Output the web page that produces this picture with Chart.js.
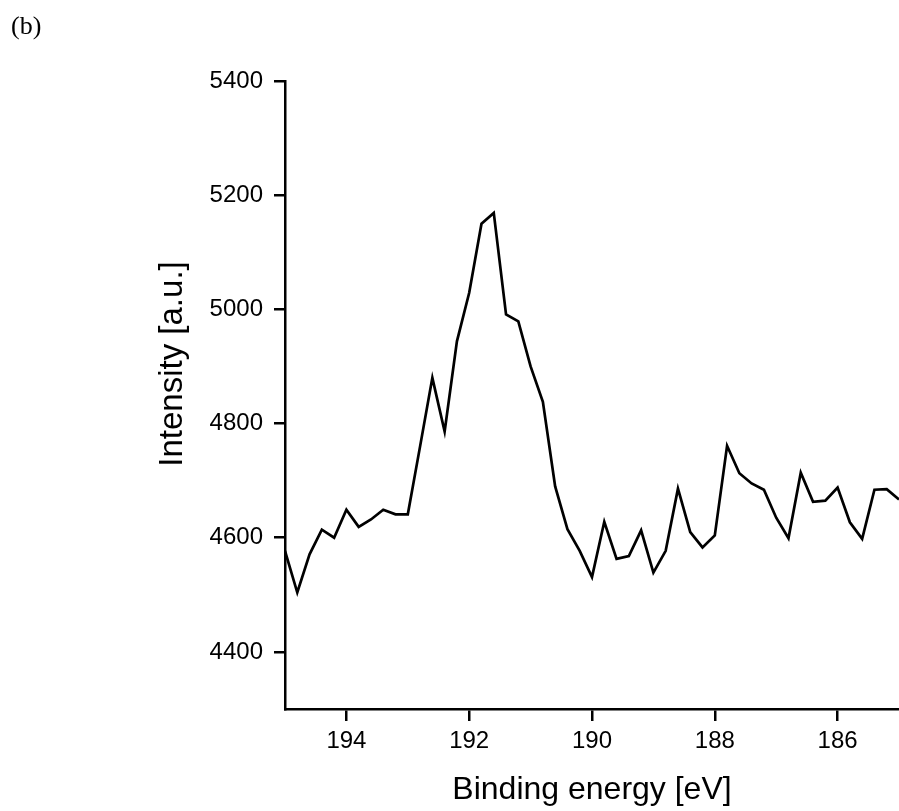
<!DOCTYPE html>
<html>
<head>
<meta charset="utf-8">
<script src="https://cdn.jsdelivr.net/npm/chart.js@4.4.1/dist/chart.umd.min.js"></script>
<style>
  html, body { margin: 0; padding: 0; background: #fff; }
  #wrap { position: relative; width: 899px; height: 811px; }
  #panel { position: absolute; left: 11px; top: 13px; line-height: 1; font-family: "Liberation Serif", "Times New Roman", serif; font-size: 26px; color: #000; }
</style>
</head>
<body>
<div id="wrap">
  <canvas id="c" width="899" height="811"></canvas>
  <div id="panel">(b)</div>
</div>
<script>
const energies = [195.0,194.8,194.6,194.4,194.2,194.0,193.8,193.6,193.4,193.2,
                  193.0,192.8,192.6,192.4,192.2,192.0,191.8,191.6,191.4,191.2,
                  191.0,190.8,190.6,190.4,190.2,190.0,189.8,189.6,189.4,189.2,
                  189.0,188.8,188.6,188.4,188.2,188.0,187.8,187.6,187.4,187.2,
                  187.0,186.8,186.6,186.4,186.2,186.0,185.8,185.6,185.4,185.2,185.0];
const intensity = [4577,4504,4571,4614,4600,4649,4619,4632,4649,4641,
                   4641,4760,4880,4786,4944,5029,5150,5169,4991,4979,
                   4900,4838,4690,4615,4577,4531,4628,4563,4568,4613,
                   4539,4577,4686,4610,4583,4604,4761,4713,4695,4684,
                   4635,4599,4714,4663,4665,4688,4627,4598,4684,4685,4667];
const xTicks = [194,192,190,188,186];
const yTicks = [4400,4600,4800,5000,5200,5400];
const yTitle = 'Intensity [a.u.]';
const xTitle = 'Binding energy [eV]';

const points = energies.map((e, i) => ({x: e, y: intensity[i]}));
const FONT = "'Liberation Sans', Arial, sans-serif";

const yTitlePlugin = {
  id: 'yTitle',
  afterDraw(chart) {
    const ctx = chart.ctx;
    ctx.save();
    ctx.translate(173, 364);
    ctx.rotate(-Math.PI / 2);
    ctx.font = "33px " + FONT;
    ctx.fillStyle = '#000';
    ctx.textAlign = 'center';
    ctx.textBaseline = 'middle';
    ctx.fillText(yTitle, 0, 0);
    ctx.restore();
  }
};

new Chart(document.getElementById('c'), {
  type: 'line',
  data: {
    datasets: [{
      data: points,
      borderColor: '#000',
      borderWidth: 2.7,
      pointRadius: 0,
      tension: 0,
      fill: false
    }]
  },
  options: {
    responsive: false,
    animation: false,
    layout: { padding: { top: 81, right: 0, bottom: 0, left: 0 } },
    plugins: { legend: { display: false }, tooltip: { enabled: false } },
    scales: {
      x: {
        type: 'linear',
        reverse: true,
        min: 185,
        max: 195,
        afterBuildTicks: s => { s.ticks = xTicks.map(v => ({value: v})); },
        afterFit: s => { s.height = 102; },
        border: { display: true, color: '#000', width: 2.5 },
        grid: { display: true, drawOnChartArea: false, drawTicks: true, tickLength: 12, color: '#000', lineWidth: 2.5 },
        ticks: { color: '#000', padding: 6, font: { family: FONT, size: 24 }, maxRotation: 0, callback: v => String(v) },
        title: { display: true, text: xTitle, color: '#000', font: { family: FONT, size: 32 }, padding: { top: 0, bottom: 2 } }
      },
      y: {
        type: 'linear',
        min: 4300,
        max: 5400,
        afterBuildTicks: s => { s.ticks = yTicks.map(v => ({value: v})); },
        afterFit: s => { s.width = 285; },
        border: { display: true, color: '#000', width: 2.5 },
        grid: { display: true, drawOnChartArea: false, drawTicks: true, tickLength: 11, color: '#000', lineWidth: 2.5 },
        ticks: { color: '#000', padding: 11, font: { family: FONT, size: 24 }, callback: v => String(v) },
        title: { display: false }
      }
    }
  },
  plugins: [yTitlePlugin]
});
</script>
</body>
</html>
